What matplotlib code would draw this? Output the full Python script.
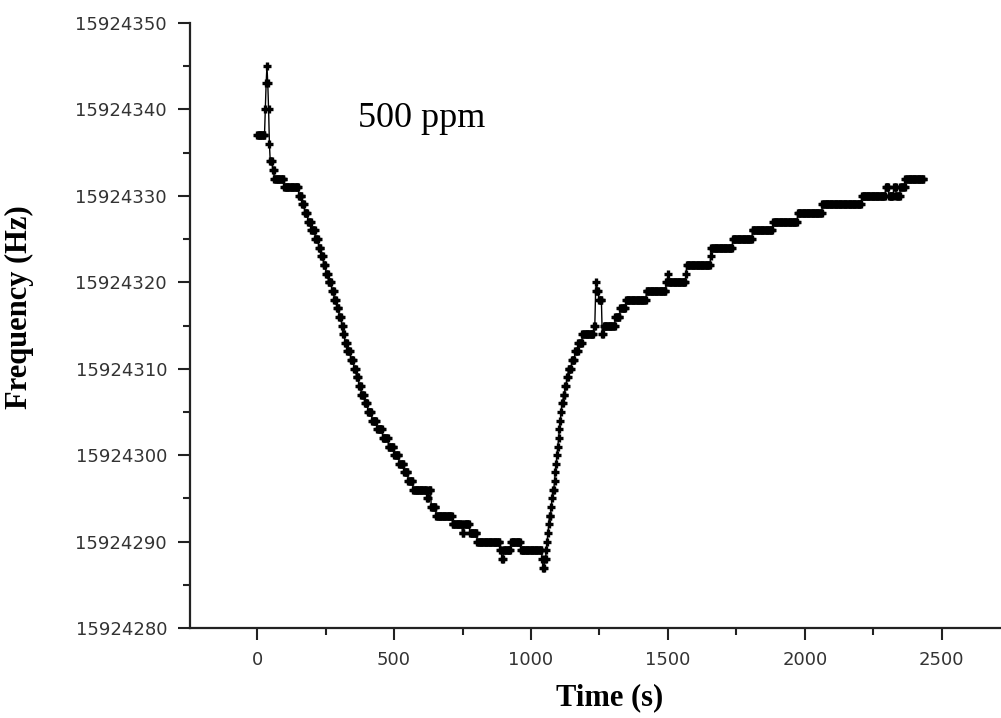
import numpy as np
import matplotlib
matplotlib.use('Agg')
from matplotlib import pyplot as plt
from matplotlib.ticker import MultipleLocator, FormatStrFormatter

# frequency counter readings, 1 Hz resolution, one reading every 3 s
f_base = 15924280
dt = 3

# run-length encoded readings: level above f_base (Hz) and number of samples
levels = [57, 60, 63, 65, 63, 60, 56, 54, 53, 52, 51, 50,
          49, 48, 47, 46, 45, 44, 43, 42, 41, 40, 39, 38,
          37, 36, 35, 34, 33, 32, 31, 30, 29, 28, 27, 26,
          25, 24, 23, 22, 21, 20, 19, 18, 17, 16, 15, 16,
          14, 13, 12, 11, 12, 11, 10, 9, 8, 9, 10, 9, 8, 7,
          8, 9, 10, 11, 12, 13, 14, 15, 16, 17, 18, 19,
          20, 21, 22, 23, 24, 25, 26, 27, 28, 29, 30, 31,
          32, 33, 34, 35, 39, 40, 39, 38, 34, 35, 36, 37,
          38, 39, 40, 41, 40, 41, 42, 43, 44, 45, 46, 47,
          48, 49, 50, 51, 50, 51, 50, 51, 52]
counts = [10, 1, 1, 1, 1, 1, 1, 3, 2, 12, 18, 4,
          3, 4, 4, 5, 4, 3, 3, 3, 3, 4, 3, 3,
          3, 3, 2, 2, 3, 4, 4, 3, 3, 3, 4, 4,
          5, 6, 7, 7, 7, 6, 6, 5, 6, 17, 2, 3,
          6, 20, 12, 2, 7, 9, 28, 2, 2, 9, 12, 26, 1, 2,
          2, 1, 1, 1, 1, 2, 1, 1, 2, 1, 1, 1,
          1, 1, 1, 1, 1, 1, 2, 2, 2, 2, 4, 4,
          4, 5, 14, 2, 1, 1, 2, 4, 2, 14, 6, 7,
          25, 24, 2, 1, 21, 1, 29, 1, 26, 24, 25, 30,
          30, 48, 29, 4, 6, 3, 5, 6, 23]

freq = f_base + np.repeat(levels, counts)
time = np.arange(len(freq)) * dt

fig = plt.figure(figsize=(10.01, 7.18), dpi=100)
ax = fig.add_axes([0.1898, 0.1253, 0.8102, 0.8427])

ax.plot(time, freq, color='k', lw=1.0, marker='+', ms=6, mew=2.4)

ax.set_xlim(-245, 2716)
ax.set_ylim(15924280, 15924350)
ax.xaxis.set_major_locator(MultipleLocator(500))
ax.xaxis.set_minor_locator(MultipleLocator(250))
ax.yaxis.set_major_locator(MultipleLocator(10))
ax.yaxis.set_minor_locator(MultipleLocator(5))
ax.yaxis.set_major_formatter(FormatStrFormatter('%d'))

for s in ['top', 'right']:
    ax.spines[s].set_visible(False)
for s in ['left', 'bottom']:
    ax.spines[s].set_linewidth(1.6)
    ax.spines[s].set_color('#222222')

ax.tick_params(which='major', length=8.5, width=1.5, color='#222222',
               labelsize=13, labelcolor='#333333', pad=8)
ax.tick_params(which='minor', length=5, width=1.5, color='#222222')
for lab in ax.get_xticklabels() + ax.get_yticklabels():
    lab.set_family('DejaVu Sans')

ax.set_xlabel('Time (s)', family='Liberation Serif', fontweight='bold',
              fontsize=22)
ax.set_ylabel('Frequency (Hz)', family='Liberation Serif', fontweight='bold',
              fontsize=22)
ax.xaxis.set_label_coords(0.517, -0.092)
ax.yaxis.set_label_coords(-0.192, 0.53)

ax.text(369, 15924338, '500 ppm', family='Liberation Serif', fontsize=26,
        va='baseline', ha='left')

fig.savefig('out.png', dpi=100)
